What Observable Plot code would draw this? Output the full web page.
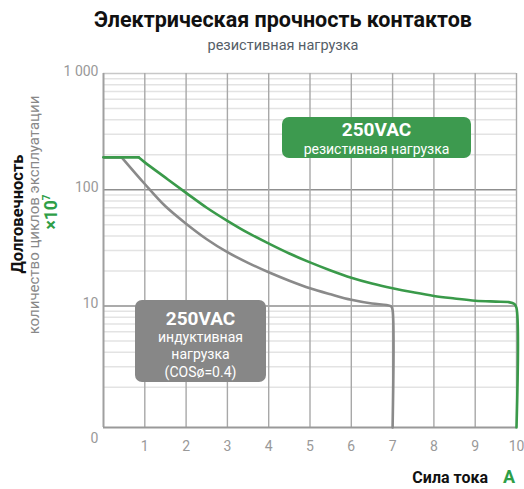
<!DOCTYPE html>
<html>
<head>
<meta charset="utf-8">
<script src="https://cdn.jsdelivr.net/npm/d3@7"></script>
<script src="https://cdn.jsdelivr.net/npm/@observablehq/plot@0.6"></script>
<style>
  html, body { margin: 0; padding: 0; background: #fff; }
  #wrap { position: relative; width: 524px; height: 489px; font-family: Roboto, "DejaVu Sans", sans-serif; overflow: hidden; }
  #title { height: 34px; line-height: 40px; text-align: center; font-weight: 700; font-size: 21.5px; color: #111; padding-left: 42px; }
  #subtitle { height: 24px; line-height: 24px; text-align: center; font-size: 14.5px; color: #555e68; padding-left: 42px; }
  .rot { position: absolute; white-space: nowrap; transform: translate(-50%, -50%) rotate(-90deg); }
  .box { position: absolute; border-radius: 7px; color: #fff; text-align: center; }
  .box .big { font-weight: 700; font-size: 19px; }
  .box .small { font-size: 14px; }
</style>
</head>
<body>
<div id="wrap">
  <div id="title">Электрическая прочность контактов</div>
  <div id="subtitle">резистивная нагрузка</div>
  <div id="chart"></div>
  <div class="rot" style="left:17px; top:214px; font-weight:700; font-size:16.5px; color:#111;">Долговечность</div>
  <div class="rot" style="left:34px; top:215px; font-size:15px; color:#888;">количество циклов эксплуатации</div>
  <div class="rot" style="left:51px; top:212px; font-weight:700; font-size:17.5px; color:#2e9e47;">×10<sup style="font-size:10px;">7</sup></div>
  <div style="position:absolute; right:36px; top:468px; font-weight:700; font-size:16px; color:#111;">Сила тока</div>
  <div style="position:absolute; left:503px; top:466px; font-weight:700; font-size:18px; color:#2e9e47;">A</div>
  <div class="box" style="left:282px; top:117px; width:189px; height:41px; background:#3d9a4f;">
    <div class="big" style="line-height:22px; margin-top:2px;">250VAC</div>
    <div class="small" style="line-height:16px;">резистивная нагрузка</div>
  </div>
  <div class="box" style="left:135px; top:300px; width:131px; height:82px; background:#878787;">
    <div class="big" style="line-height:22px; margin-top:8px;">250VAC</div>
    <div class="small" style="line-height:17px; margin-top:-1px;">индуктивная</div>
    <div class="small" style="line-height:17px;">нагрузка</div>
    <div class="small" style="line-height:18px;">(COSø=0.4)</div>
  </div>
</div>
<script>
// Current, A (x) and durability ×10^7 cycles (y)
const inductiveX = [0, 0.44, 1, 1.5, 2, 2.5, 3, 3.5, 4, 4.5, 5, 5.5, 6, 6.5, 6.85, 6.97, 7, 7];
const inductiveY = [190, 190, 112, 72, 51, 37.5, 29, 23.5, 19.5, 16.5, 14.2, 12.6, 11.3, 10.5, 10.2, 9.9, 9.2, 0.9];
const resistiveX = [0, 0.85, 1, 1.5, 2, 2.5, 3, 3.5, 4, 4.5, 5, 5.5, 6, 6.5, 7, 7.5, 8, 8.5, 9, 9.5, 9.8, 9.95, 10, 10];
const resistiveY = [190, 190, 172, 127, 94, 70, 54, 42.5, 34.5, 28.3, 23.7, 20.2, 17.5, 15.6, 14.2, 13.1, 12.2, 11.6, 11.1, 10.9, 10.8, 10.4, 9.6, 0.9];
const xTicks = [1, 2, 3, 4, 5, 6, 7, 8, 9, 10];
const yTicks = [10, 100, 1000];
const yTickLabels = ["10", "100", "1 000"];
const yBottom = 0.9;
const yBottomLabel = "0";

const inductive = inductiveX.map((x, i) => ({x, y: inductiveY[i]}));
const resistive = resistiveX.map((x, i) => ({x, y: resistiveY[i]}));
const minorY = d3.scaleLog().domain([1, 1000]).ticks().filter(v => !yTicks.includes(v) && v > 1);

const lineStyle = (stroke) => ({x: "x", y: "y", stroke, strokeWidth: 2.6});

const chart = Plot.plot({
  width: 524,
  height: 431,
  marginTop: 15,
  marginLeft: 103,
  marginRight: 8,
  marginBottom: 62,
  style: {fontFamily: "Roboto, 'DejaVu Sans', sans-serif", background: "#fff"},
  x: {domain: [0, 10], axis: null},
  y: {type: "log", domain: [yBottom, 1000], axis: null},
  marks: [
    Plot.ruleY(minorY, {stroke: "#e3e3e3", strokeWidth: 1.5}),
    Plot.ruleY([1000], {stroke: "#c8c8c8", strokeWidth: 1.3}),
    Plot.ruleY([10, 100], {stroke: "#8f8f8f", strokeWidth: 1.4}),
    Plot.ruleX(xTicks, {stroke: "#a8a8a8", strokeWidth: 1.4}),
    Plot.ruleX([0], {stroke: "#a0a0a0", strokeWidth: 2}),
    Plot.ruleY([yBottom], {stroke: "#999", strokeWidth: 2}),
    // flat start (sharp knee) then smooth decline and drop
    Plot.line(inductive.slice(0, 2), lineStyle("#8a8a8a")),
    Plot.line(inductive.slice(1), {...lineStyle("#8a8a8a"), curve: "catmull-rom"}),
    Plot.line(resistive.slice(0, 2), lineStyle("#3a9a4a")),
    Plot.line(resistive.slice(1), {...lineStyle("#3a9a4a"), curve: "catmull-rom"}),
    Plot.axisX(xTicks, {tickSize: 0, tickPadding: 14, fontSize: 14, color: "#999", label: null}),
    Plot.axisY(yTicks, {tickSize: 0, tickPadding: 5, fontSize: 14, color: "#999", label: null,
      tickFormat: v => yTickLabels[yTicks.indexOf(v)], dy: -2}),
    Plot.text([yBottomLabel], {x: 0, y: yBottom, text: d => d, dx: -9, dy: 11, fontSize: 14, fill: "#999"})
  ]
});
document.getElementById("chart").appendChild(chart);
</script>
</body>
</html>
